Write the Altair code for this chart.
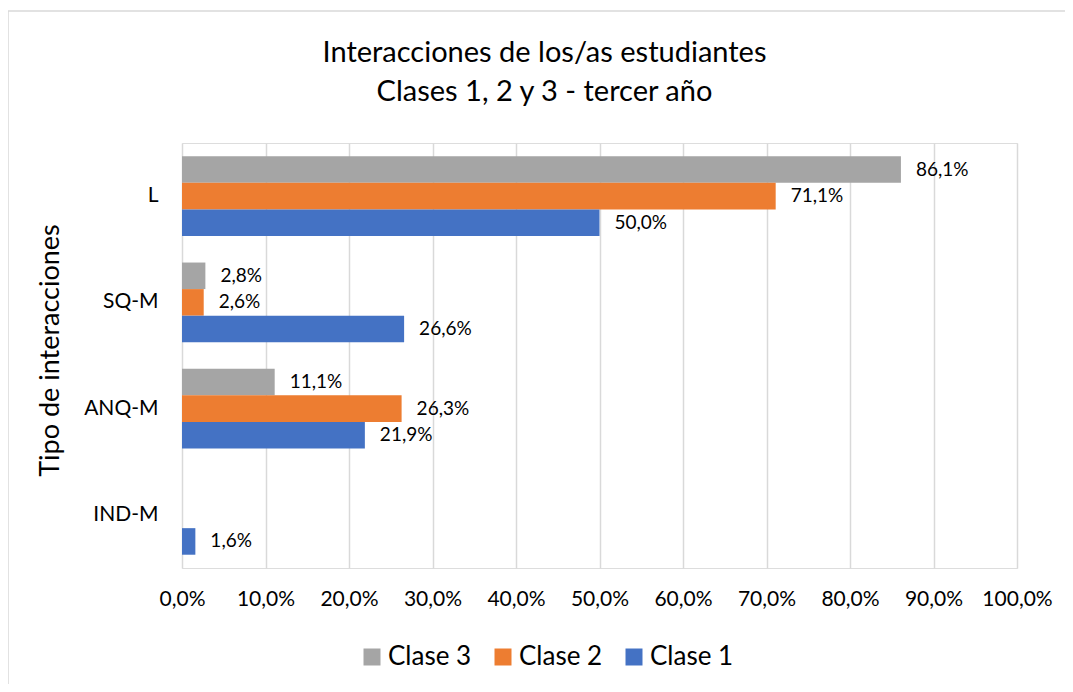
import altair as alt
import pandas as pd

categories = ["L", "SQ-M", "ANQ-M", "IND-M"]
series = ["Clase 3", "Clase 2", "Clase 1"]
clase3 = [86.1, 2.8, 11.1, 0.0]
clase2 = [71.1, 2.6, 26.3, 0.0]
clase1 = [50.0, 26.6, 21.9, 1.6]
colors = ["#A5A5A5", "#ED7D31", "#4472C4"]

rows = []
for s, vals in zip(series, [clase3, clase2, clase1]):
    for c, v in zip(categories, vals):
        rows.append({"cat": c, "serie": s, "v": v})
df = pd.DataFrame(rows)

FONT = "Lato"
W, H = 835, 425

y_enc = alt.Y("cat:N", sort=categories,
              scale=alt.Scale(paddingInner=0.25, paddingOuter=0.125),
              axis=alt.Axis(title="Tipo de interacciones", domain=False, ticks=False,
                            labelPadding=24, labelFontSize=21, labelColor="#000000",
                            labelFont=FONT, titleFont=FONT, titleFontSize=27,
                            titleFontWeight="normal", titleColor="#000000",
                            titleX=-132, titleY=207, titleAngle=270,
                            titleAlign="center", titleBaseline="middle"))
yoff = alt.YOffset("serie:N", sort=series,
                   scale=alt.Scale(domain=series, paddingInner=0, paddingOuter=0))
x_enc = alt.X("v:Q", scale=alt.Scale(domain=[0, 100], nice=False),
              axis=alt.Axis(title=None, values=list(range(0, 101, 10)), domain=False,
                            ticks=False, grid=True, gridColor="#D9D9D9", gridWidth=1.5,
                            labelPadding=20, labelFontSize=21, labelColor="#000000",
                            labelFont=FONT, labelOverlap=False, labelFlush=False,
                            labelExpr="replace(format(datum.value, '.1f'), '.', ',') + '%'"))

base = alt.Chart(df)
bars = base.mark_bar().encode(
    x=x_enc, y=y_enc, yOffset=yoff,
    color=alt.Color("serie:N", sort=series,
                    scale=alt.Scale(domain=series, range=colors),
                    legend=alt.Legend(title=None, orient="none", direction="horizontal",
                                      legendX=177, legendY=501, symbolType="square",
                                      symbolSize=289, symbolStrokeWidth=0,
                                      labelFontSize=26, labelFont=FONT,
                                      labelColor="#000000", labelOffset=3,
                                      columnPadding=18)),
)
labels = base.transform_filter("datum.v > 0").transform_calculate(
    lab="replace(format(datum.v, '.1f'), '.', ',') + '%'"
).mark_text(align="left", baseline="middle", dx=15, fontSize=19, font=FONT,
            color="#000000").encode(
    x="v:Q", y=alt.Y("cat:N", sort=categories), yOffset=yoff, text="lab:N")

frame_data = alt.Data(values=[{"k": 1}])
frame_left = alt.Chart(frame_data).mark_rule(color="#D9D9D9", strokeWidth=1.5).encode(
    x=alt.value(-174), y=alt.value(-132), y2=alt.value(560))
frame_top = alt.Chart(frame_data).mark_rule(color="#D9D9D9", strokeWidth=1.5).encode(
    x=alt.value(-174), x2=alt.value(900), y=alt.value(-132))

chart = alt.layer(frame_left, frame_top, bars, labels).properties(
    width=W, height=H,
    autosize=alt.AutoSizeParams(type="none"),
    padding={"left": 174, "top": 135, "right": 48, "bottom": 116},
    title=alt.TitleParams(text=["Interacciones de los/as estudiantes",
                                "Clases 1, 2 y 3 - tercer año"],
                          font=FONT, fontSize=29, fontWeight="normal", color="#000000",
                          lineHeight=39, offset=40, dy=137, dx=-55, anchor="middle"),
).configure_view(stroke=None).configure(background="white")

chart.save("out.html", embed_options={"renderer": "svg", "actions": False})
